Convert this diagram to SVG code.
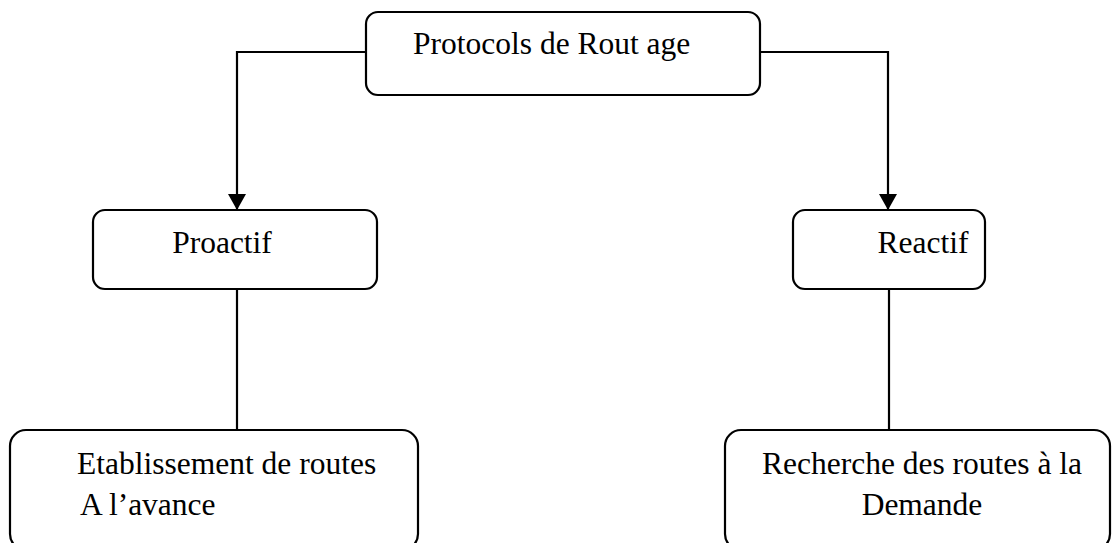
<svg xmlns="http://www.w3.org/2000/svg" width="1115" height="543" viewBox="0 0 1115 543">
  <style>
    .box { fill: #ffffff; stroke: #000000; stroke-width: 2.2; }
    .wire { fill: none; stroke: #000000; stroke-width: 2.2; }
    .label { font-family: "Liberation Serif", "Times New Roman", serif; font-size: 31.5px; fill: #000000; }
  </style>
  <defs>
    <marker id="arrow" viewBox="0 0 16 18" refX="16" refY="9" markerWidth="16" markerHeight="18" markerUnits="userSpaceOnUse" orient="auto">
      <path d="M0,0 L16,9 L0,18 Z" fill="#000000"/>
    </marker>
  </defs>
  <rect width="1115" height="543" fill="#ffffff"/>

  <!-- connectors -->
  <g id="connectors">
    <path class="wire" d="M365,52 H237 V210" marker-end="url(#arrow)"/>
    <path class="wire" d="M760,52 H888 V210" marker-end="url(#arrow)"/>
    <path class="wire" d="M237,289 V430"/>
    <path class="wire" d="M889,289 V430"/>
  </g>

  <!-- root -->
  <g id="node-root">
    <rect class="box" x="366" y="12" width="394" height="83" rx="12"/>
    <text class="label" x="413" y="54">Protocols de Rout age</text>
  </g>

  <!-- proactive branch -->
  <g id="node-proactif">
    <rect class="box" x="93" y="210" width="284" height="79" rx="12"/>
    <text class="label" x="222" y="253" text-anchor="middle">Proactif</text>
  </g>

  <!-- reactive branch -->
  <g id="node-reactif">
    <rect class="box" x="793" y="210" width="192" height="79" rx="12"/>
    <text class="label" x="923" y="253" text-anchor="middle">Reactif</text>
  </g>

  <g id="node-avance">
    <rect class="box" x="10" y="430" width="408" height="120" rx="16"/>
    <text class="label" x="77" y="474">Etablissement de routes</text>
    <text class="label" x="80" y="515">A l’avance</text>
  </g>

  <g id="node-demande">
    <rect class="box" x="725" y="430" width="385" height="120" rx="16"/>
    <text class="label" x="922" y="474" text-anchor="middle">Recherche des routes à la</text>
    <text class="label" x="922" y="515" text-anchor="middle">Demande</text>
  </g>
</svg>
